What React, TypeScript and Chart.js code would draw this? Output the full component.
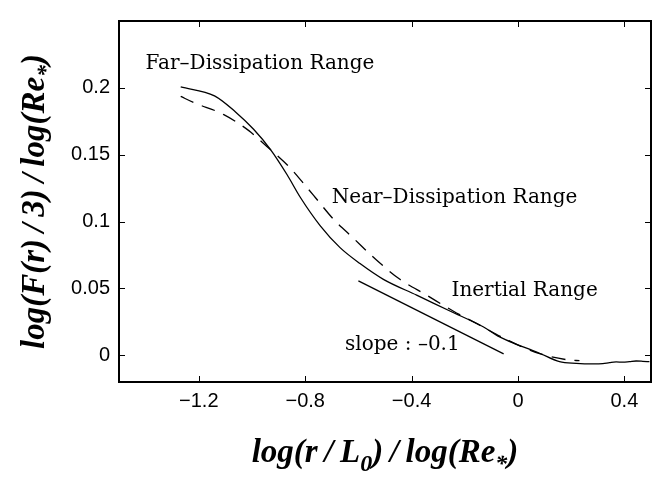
import React, { useEffect, useRef } from "react";
import { Chart, registerables } from "chart.js";

Chart.register(...registerables);

// Measured curve log(F(r)/3)/log(Re*) vs log(r/L0)/log(Re*)
const SOLID_X = [-1.268, -1.141, -1.062, -0.994, -0.931, -0.868, -0.818, -0.744, -0.669, -0.594, -0.506, -0.381, -0.256, -0.131, -0.069, -0.006, 0.056, 0.081, 0.156, 0.219, 0.281, 0.319, 0.344, 0.369, 0.394, 0.419, 0.444, 0.469, 0.494];
const SOLID_Y = [0.2007, 0.194, 0.182, 0.169, 0.154, 0.135, 0.118, 0.097, 0.0805, 0.0686, 0.0568, 0.045, 0.0331, 0.0213, 0.0137, 0.0082, 0.0035, 0.0015, -0.0048, -0.006, -0.0064, -0.0062, -0.0055, -0.005, -0.0052, -0.0048, -0.0043, -0.0045, -0.0048];

// Model curve (dashed)
const DASH_X = [-1.268, -1.219, -1.106, -1.012, -0.943, -0.856, -0.8, -0.762, -0.694, -0.619, -0.531, -0.444, -0.344, -0.244, -0.144, -0.044, 0.081, 0.194, 0.231];
const DASH_Y = [0.1936, 0.189, 0.18, 0.168, 0.156, 0.14, 0.127, 0.118, 0.1018, 0.0876, 0.071, 0.0568, 0.045, 0.0331, 0.0225, 0.0118, 0.0012, -0.0036, -0.004];

// Reference slope line (slope -0.1)
const SLOPE_X = [-0.6, -0.054];
const SLOPE_Y = [0.0556, 0.001];

const X_TICKS = [-1.2, -0.8, -0.4, 0, 0.4];
const Y_TICKS = [0, 0.05, 0.1, 0.15, 0.2];
const X_RANGE = [-1.5, 0.5];
const Y_RANGE = [-0.02, 0.25];

const ANNOT_TEXT = ["Far\u2013Dissipation Range", "Near\u2013Dissipation Range", "Inertial Range", "slope : \u20130.1"];
const ANNOT_X = [-1.4, -0.7, -0.25, -0.65];
const ANNOT_Y = [0.2142, 0.114, 0.0445, 0.0038];

const X_TITLE = [
  { t: "log(r\u2009/\u2009L", sub: false },
  { t: "0", sub: true },
  { t: ")\u2009/\u2009log(Re", sub: false },
  { t: "*", sub: true },
  { t: ")", sub: false },
];
const Y_TITLE = [
  { t: "log(F(r)\u2009/\u20093)\u2009/\u2009log(Re", sub: false },
  { t: "*", sub: true },
  { t: ")", sub: false },
];

const fmt = (v: number) => (v < 0 ? "\u2212" + String(Math.abs(v)) : String(v));

const TITLE_FONT = 'italic bold 33px "Liberation Serif"';
const SUB_FONT = 'italic bold 24px "Liberation Serif"';

function drawRich(ctx: CanvasRenderingContext2D, segs: { t: string; sub: boolean }[], cx: number, by: number) {
  let total = 0;
  const widths = segs.map((s) => {
    ctx.font = s.sub ? SUB_FONT : TITLE_FONT;
    const w = ctx.measureText(s.t).width;
    total += w;
    return w;
  });
  let x = cx - total / 2;
  ctx.textAlign = "left";
  ctx.textBaseline = "alphabetic";
  segs.forEach((s, i) => {
    ctx.font = s.sub ? SUB_FONT : TITLE_FONT;
    ctx.fillText(s.t, x, s.sub ? by + 9 : by);
    x += widths[i];
  });
}

const decorPlugin = {
  id: "decor",
  afterDraw(chart: any) {
    const ctx: CanvasRenderingContext2D = chart.ctx;
    const { left, right, top, bottom } = chart.chartArea;
    const xs = chart.scales.x;
    const ys = chart.scales.y;
    ctx.save();
    ctx.strokeStyle = "#000";
    ctx.fillStyle = "#000";
    // inward ticks on all sides
    ctx.lineWidth = 1;
    ctx.beginPath();
    X_TICKS.forEach((v) => {
      const px = Math.round(xs.getPixelForValue(v)) + 0.5;
      ctx.moveTo(px, bottom);
      ctx.lineTo(px, bottom - 6);
      ctx.moveTo(px, top);
      ctx.lineTo(px, top + 6);
    });
    Y_TICKS.forEach((v) => {
      const py = Math.round(ys.getPixelForValue(v)) + 0.5;
      ctx.moveTo(left, py);
      ctx.lineTo(left + 6, py);
      ctx.moveTo(right, py);
      ctx.lineTo(right - 6, py);
    });
    ctx.stroke();
    // box
    ctx.lineWidth = 2;
    ctx.strokeRect(left, top, right - left, bottom - top);
    // annotations
    ctx.font = '20px "DejaVu Serif"';
    ctx.textAlign = "left";
    ctx.textBaseline = "alphabetic";
    ANNOT_TEXT.forEach((t, i) => {
      ctx.fillText(t, xs.getPixelForValue(ANNOT_X[i]), ys.getPixelForValue(ANNOT_Y[i]));
    });
    // axis titles
    drawRich(ctx, X_TITLE, (left + right) / 2, bottom + 80);
    ctx.translate(44, (top + bottom) / 2);
    ctx.rotate(-Math.PI / 2);
    drawRich(ctx, Y_TITLE, 0, 0);
    ctx.restore();
  },
};

export default function App() {
  const ref = useRef<HTMLCanvasElement>(null);
  useEffect(() => {
    document.body.style.margin = "0";
    const toXY = (xs: number[], ys: number[]) => xs.map((x, i) => ({ x, y: ys[i] }));
    const chart = new Chart(ref.current!, {
      type: "line",
      data: {
        datasets: [
          {
            data: toXY(SOLID_X, SOLID_Y),
            borderColor: "#000",
            borderWidth: 1.3,
            pointRadius: 0,
            cubicInterpolationMode: "monotone",
            fill: false,
          },
          {
            data: toXY(DASH_X, DASH_Y),
            borderColor: "#000",
            borderWidth: 1.3,
            borderDash: [14, 9],
            pointRadius: 0,
            cubicInterpolationMode: "monotone",
            fill: false,
          },
          {
            data: toXY(SLOPE_X, SLOPE_Y),
            borderColor: "#000",
            borderWidth: 1.3,
            pointRadius: 0,
            fill: false,
          },
        ],
      },
      options: {
        responsive: false,
        animation: false,
        devicePixelRatio: 1,
        layout: { padding: { top: 2, right: 18, left: 0, bottom: 0 } },
        plugins: { legend: { display: false }, tooltip: { enabled: false } },
        scales: {
          x: {
            type: "linear",
            min: X_RANGE[0],
            max: X_RANGE[1],
            grid: { display: false, drawTicks: false },
            border: { display: false },
            afterBuildTicks: (s: any) => {
              s.ticks = X_TICKS.map((v) => ({ value: v }));
            },
            afterFit: (s: any) => {
              s.height = 100;
            },
            ticks: {
              padding: 7,
              color: "#000",
              font: { family: '"Liberation Sans"', size: 20 },
              maxRotation: 0,
              callback: (v: any) => fmt(Number(v)),
            },
          },
          y: {
            type: "linear",
            min: Y_RANGE[0],
            max: Y_RANGE[1],
            grid: { display: false, drawTicks: false },
            border: { display: false },
            afterBuildTicks: (s: any) => {
              s.ticks = Y_TICKS.map((v) => ({ value: v }));
            },
            afterFit: (s: any) => {
              s.width = 119;
            },
            ticks: {
              padding: 9,
              color: "#000",
              font: { family: '"Liberation Sans"', size: 20 },
              callback: (v: any) => fmt(Number(v)),
            },
          },
        },
      },
      plugins: [decorPlugin],
    } as any);
    return () => chart.destroy();
  }, []);
  return <canvas ref={ref} width={669} height={482} style={{ display: "block" }} />;
}
